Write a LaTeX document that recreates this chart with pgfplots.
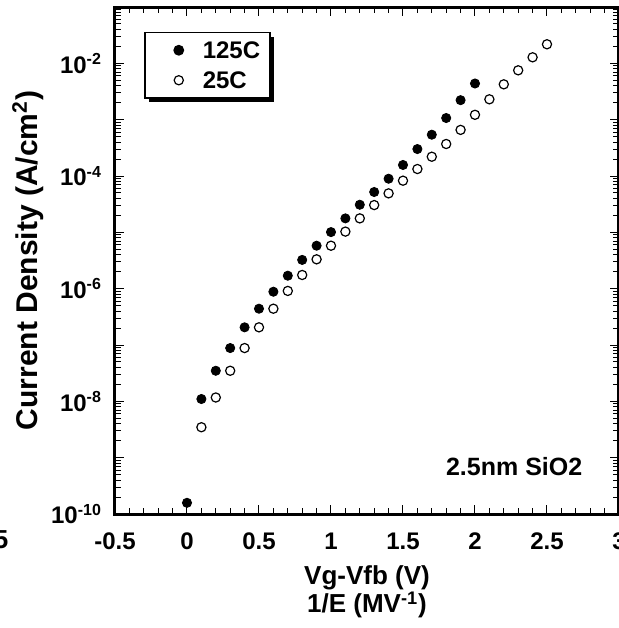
\documentclass[border=0pt]{standalone}
\usepackage{fontspec}
\setmainfont{Liberation Sans}
\usepackage{pgfplots}
\pgfplotsset{compat=1.18}
\usetikzlibrary{shadows}
\begin{document}
\begin{tikzpicture}
\begin{axis}[
  at={(0,0)}, anchor=south west,
  scale only axis, width=252pt, height=253.5pt,
  xmin=-0.5, xmax=3, ymode=log, ymin=1e-10, ymax=1e-1,
  xtick={-0.5,0,0.5,1,1.5,2,2.5,3},
  xticklabels={-0.5,0,0.5,1,1.5,2,2.5,3},
  minor x tick num=4,
  ytick={1e-10,1e-9,1e-8,1e-7,1e-6,1e-5,1e-4,1e-3,1e-2,1e-1},
  yticklabels={10\textsuperscript{-10},,10\textsuperscript{-8},,10\textsuperscript{-6},,10\textsuperscript{-4},,10\textsuperscript{-2},},
  minor ytick={2e-10,3e-10,4e-10,5e-10,6e-10,7e-10,8e-10,9e-10,
    2e-9,3e-9,4e-9,5e-9,6e-9,7e-9,8e-9,9e-9,
    2e-8,3e-8,4e-8,5e-8,6e-8,7e-8,8e-8,9e-8,
    2e-7,3e-7,4e-7,5e-7,6e-7,7e-7,8e-7,9e-7,
    2e-6,3e-6,4e-6,5e-6,6e-6,7e-6,8e-6,9e-6,
    2e-5,3e-5,4e-5,5e-5,6e-5,7e-5,8e-5,9e-5,
    2e-4,3e-4,4e-4,5e-4,6e-4,7e-4,8e-4,9e-4,
    2e-3,3e-3,4e-3,5e-3,6e-3,7e-3,8e-3,9e-3,
    2e-2,3e-2,4e-2,5e-2,6e-2,7e-2,8e-2,9e-2},
  tick align=inside, tick pos=both,
  major tick length=4.5pt, minor tick length=2.8pt,
  every tick/.style={black, line width=0.5pt},
  axis line style={line width=1.5pt},
  ticklabel style={font=\fontsize{12}{13}\selectfont\bfseries},
  yticklabel style={xshift=-3pt},
  xticklabel style={yshift=-6pt},
  xlabel={Vg-Vfb (V)\\1/E (MV\textsuperscript{-1})},
  xlabel style={align=center, at={(axis description cs:0.5,0)}, anchor=center, yshift=-39pt,
    font=\fontsize{13}{14}\selectfont\bfseries},
  ylabel={Current Density (A/cm\textsuperscript{2})},
  ylabel style={at={(axis description cs:-0.173,0.5)}, anchor=center, rotate=0,
    font=\fontsize{15}{16}\selectfont\bfseries},
  legend image code/.code={%
    \pgfpathmoveto{\pgfpoint{0pt}{0pt}}\pgfpathlineto{\pgfpoint{24pt}{0pt}}\pgfusepath{discard}%
    \draw[#1] plot coordinates {(14pt,0pt)};},
  legend style={at={(rel axis cs:0.0575,0.951)}, anchor=north west,
    draw=black, line width=0.8pt, fill=white,
    drop shadow={shadow xshift=2pt, shadow yshift=-2pt, fill=black, opacity=1},
    font=\fontsize{12}{14}\selectfont\bfseries,
    inner xsep=3pt, inner ysep=2.5pt, row sep=2.4pt,
    nodes={inner sep=2pt, text height=8.6pt, text depth=0pt},
    /tikz/every even column/.append style={column sep=4pt},
    legend cell align=left},
  clip=false,
]
\addplot[only marks, mark=*, mark size=2.3pt, black] coordinates {
(0,1.58e-10) (0.1,1.10e-8) (0.2,3.49e-8) (0.3,8.83e-8) (0.4,2.06e-7)
(0.5,4.41e-7) (0.6,8.83e-7) (0.7,1.70e-6) (0.8,3.24e-6) (0.9,5.79e-6)
(1.0,1.01e-5) (1.1,1.77e-5) (1.2,3.09e-5) (1.3,5.20e-5) (1.4,8.95e-5)
(1.5,1.57e-4) (1.6,3.01e-4) (1.7,5.41e-4) (1.8,1.07e-3) (1.9,2.22e-3)
(2.0,4.39e-3)};
\addlegendentry{125C}
\addplot[only marks, mark=o, mark size=2.3pt, black, mark options={line width=0.6pt}] coordinates {
(0.1,3.47e-9) (0.2,1.17e-8) (0.3,3.49e-8) (0.4,8.83e-8) (0.5,2.06e-7)
(0.6,4.41e-7) (0.7,9.12e-7) (0.8,1.75e-6) (0.9,3.32e-6) (1.0,5.79e-6)
(1.1,1.03e-5) (1.2,1.77e-5) (1.3,3.05e-5) (1.4,4.92e-5) (1.5,8.26e-5)
(1.6,1.33e-4) (1.7,2.20e-4) (1.8,3.70e-4) (1.9,6.59e-4) (2.0,1.22e-3)
(2.1,2.30e-3) (2.2,4.24e-3) (2.3,7.52e-3) (2.4,1.28e-2) (2.5,2.18e-2)};
\addlegendentry{25C}
\node[font=\fontsize{12.5}{14}\selectfont\bfseries] at (rel axis cs:0.792,0.0927) {2.5nm SiO2};
\end{axis}
\node[font=\fontsize{13}{15}\selectfont\bfseries] at (-57pt,-13pt) {5};
\pgfresetboundingbox
\path[use as bounding box] (-57.5pt,-57pt) rectangle (252pt,257pt);
\end{tikzpicture}
\end{document}
